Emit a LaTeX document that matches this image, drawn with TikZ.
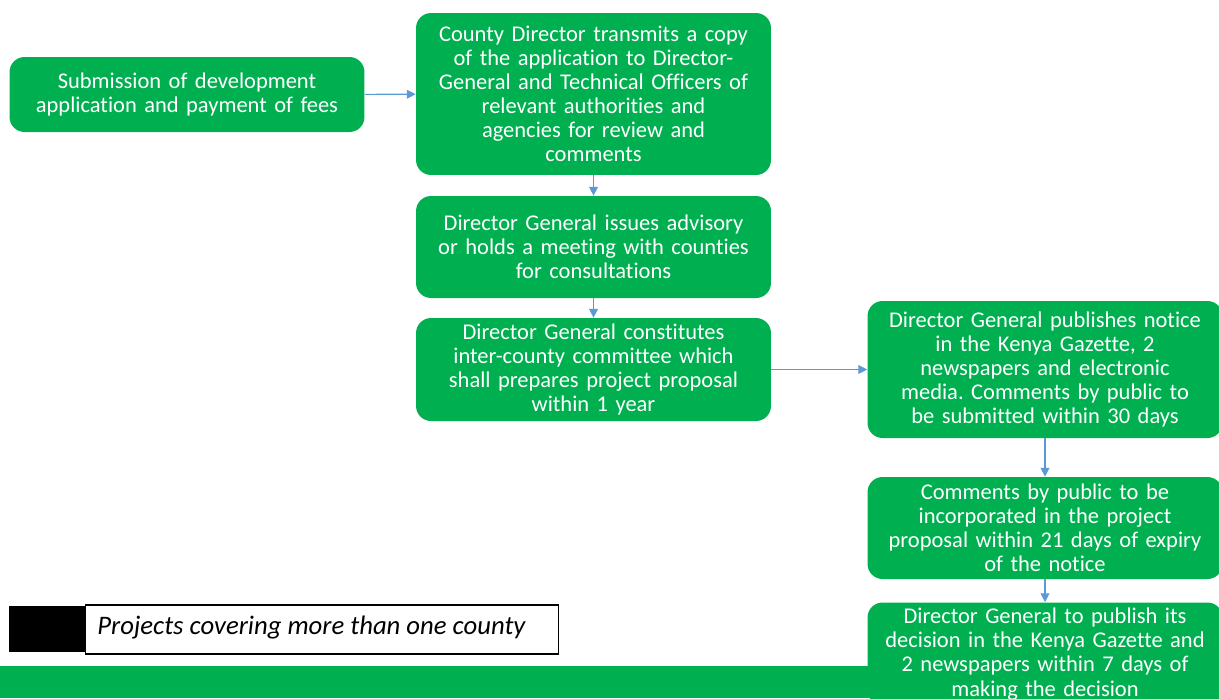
\documentclass[tikz,border=0pt]{standalone}
\usepackage{fontspec}
\setmainfont{Carlito}[Ligatures=NoCommon]
\frenchspacing
\usetikzlibrary{arrows.meta,positioning}
\definecolor{stepgreen}{HTML}{00B050}
\definecolor{flowblue}{HTML}{5B9BD5}

\begin{document}
\begin{tikzpicture}[x=0.02cm,y=-0.02cm,every node/.style={font=\fontsize{12.8}{13.7}\selectfont},
  stepbox/.style={fill=stepgreen,text=white,rounded corners=0.3cm,align=center,inner sep=0pt,text width=7cm,minimum width=7.1cm},
  flow/.style={draw=flowblue,line width=.6pt,-{Triangle[length=5pt,width=5pt]}}]
\useasboundingbox (0,0) rectangle (1219,698);
\clip (0,0) rectangle (1219,698);
\fill[stepgreen] (0,666) rectangle (1219,698);
\node[stepbox,minimum height=1.5cm] (submit) at (187,94.5) {Submission of development\\application and payment of fees};
\node[stepbox,minimum height=3.24cm] (transmit) at (593.5,94) {County Director transmits a copy\\of the application to Director-\\General and Technical Officers of\\relevant authorities and\\agencies for review and\\comments};
\node[stepbox,minimum height=2.04cm] (advisory) at (593.5,247) {Director General issues advisory\\or holds a meeting with counties\\for consultations};
\node[stepbox,minimum height=2.06cm] (committee) at (593.5,369.5) {Director General constitutes\\inter-county committee which\\shall prepares project proposal\\within 1 year};
\node[stepbox,minimum height=2.74cm] (notice) at (1045,369.5) {Director General publishes notice\\in the Kenya Gazette, 2\\newspapers and electronic\\media. Comments by public to\\be submitted within 30 days};
\node[stepbox,minimum height=2.04cm] (comments) at (1045,528) {Comments by public to be\\incorporated in the project\\proposal within 21 days of expiry\\of the notice};
\node[stepbox,minimum height=2.06cm] (decision) at (1045,654) {Director General to publish its\\decision in the Kenya Gazette and\\2 newspapers within 7 days of\\making the decision};
\draw[flow] (submit) -- (transmit);
\draw[flow] (transmit) -- (advisory);
\draw[flow] (advisory) -- (committee);
\draw[flow] (committee) -- (notice);
\draw[flow] (notice) -- (comments);
\draw[flow] (comments) -- (decision);
\node[fill=black,minimum width=1.52cm,minimum height=.92cm,inner sep=0pt] (key) at (47,629) {};
\node[draw=black,fill=white,line width=.6pt,minimum width=9.48cm,minimum height=.98cm,inner sep=0pt] (keylabel) at (322,629.5) {};
\node[anchor=west,inner sep=0pt,font=\fontsize{15.2}{17}\selectfont\itshape] (keytext) at (97,627) {Projects covering more than one county};
\end{tikzpicture}
\end{document}
